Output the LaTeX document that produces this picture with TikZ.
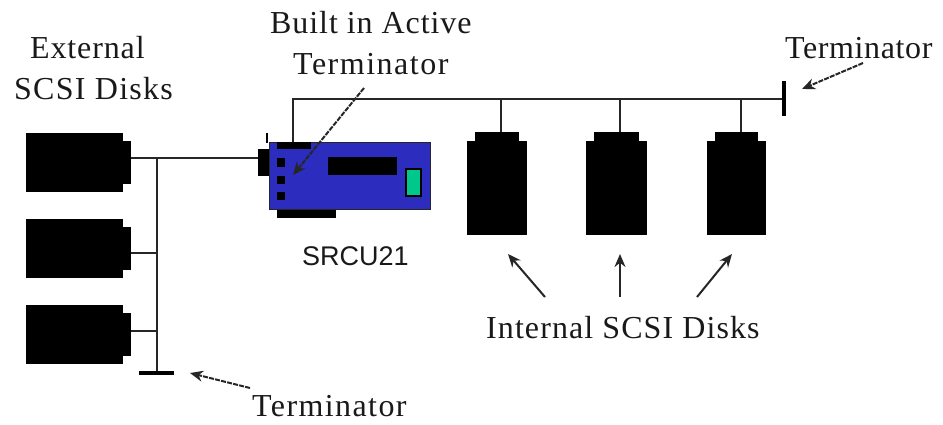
\documentclass[tikz,border=0pt]{standalone}
\usepackage{fontspec}
\setmainfont{Liberation Serif}
\newfontfamily\sansf{Liberation Sans}
\usetikzlibrary{arrows.meta}
\definecolor{cardblue}{RGB}{44,44,190}
\definecolor{ledgreen}{RGB}{0,200,140}
\newcommand{\spc}[2]{{\addfontfeature{LetterSpace=#1}#2}}
\tikzset{
  x=1pt,y=-1pt,
  wire/.style={line width=2pt,draw=black!85},
  term/.style={line width=4.5pt,draw=black},
  blk/.style={fill=black,draw=none},
  lab/.style={font=\fontsize{32}{41}\selectfont,anchor=base west,inner sep=0pt,text=black!90},
  callout/.style={line width=2pt,draw=black!85,-{Stealth[length=13pt,width=11pt]}},
  dashcall/.style={callout,dash pattern=on 5pt off 1.2pt},
}
\newcommand{\extdisk}[2]{%
  \fill[blk] (26,#1) rectangle (123,#1+59);
  \fill[blk] (123,#1+8) rectangle (131,#1+51);
  \coordinate (#2) at (131,#1+30);
}
\newcommand{\intdisk}[3]{%
  \fill[blk] (#1,141) rectangle (#1+#3,235);
  \fill[blk] (#1+8,132) rectangle (#1+#3-8,141);
}
\begin{document}
\begin{tikzpicture}
\useasboundingbox (0,0) rectangle (943,424);
% external disks
\extdisk{133}{e1}
\extdisk{219}{e2}
\extdisk{305}{e3}
% internal disks
\intdisk{467}{i1}{60}
\intdisk{586}{i2}{61}
\intdisk{707}{i3}{59}
% named points
\coordinate (busL) at (293,99);
\coordinate (busR) at (784,99);
\coordinate (cardTop) at (293,142);
\coordinate (cardLeft) at (258,158);
\coordinate (extA) at (131,158);
\coordinate (j1) at (156.5,158);
\coordinate (j2) at (156.5,253);
\coordinate (j3) at (156.5,331);
\coordinate (j4) at (156.5,373);
\coordinate (d2) at (131,253);
\coordinate (d3) at (131,331);
% wires
\draw[wire] (extA) -- (cardLeft);
\draw[wire] (j1) -- (j4);
\draw[wire] (d2) -- (j2);
\draw[wire] (d3) -- (j3);
\draw[wire] (cardTop) -- (busL) -- (busR);
\draw[wire] (501,99) -- (501,132);
\draw[wire] (620,99) -- (620,132);
\draw[wire] (741,99) -- (741,132);
% terminators
\draw[term] (139,373) -- (174,373);
\draw[term] (784,81) -- (784,116);
% card
\fill[blk] (258,149) rectangle (269,176);
\draw[line width=2pt] (267,133) -- (267,143);
\fill[blk] (277,209) rectangle (336,218);
\draw[fill=cardblue,draw=black!85,line width=1pt] (269,142) rectangle (430,209);
\fill[blk] (277,142) rectangle (311,149);
\fill[blk] (277,158) rectangle (285,167);
\fill[blk] (277,176) rectangle (285,184);
\fill[blk] (277,192) rectangle (285,200);
\fill[blk] (328,157) rectangle (397,175);
\draw[fill=ledgreen,draw=black,line width=1.2pt] (406,169) rectangle (421,196);
% labels
\node[lab,align=left] (tExt) at (14,99) {\hspace*{16pt}\spc{2.7}{External}\\\spc{4}{SCSI Disks}};
\node[lab,align=left] (tBuilt) at (270,74) {\spc{2.9}{Built in Active}\\\hspace*{23pt}\spc{4.7}{Terminator}};
\node[lab] (tTermR) at (785,58) {\spc{1.9}{Terminator}};
\node[lab] (tTermB) at (252,416.5) {\spc{4.4}{Terminator}};
\node[lab] (tInt) at (486,338) {\spc{3.4}{Internal SCSI Disks}};
\node[lab,font=\sansf\fontsize{27}{32}\selectfont] (tCard) at (302,265) {SRCU21};
% callouts
\draw[dashcall] (364,88) -- (293,175);
\draw[dashcall] (863,63) -- (802,89);
\draw[dashcall] (250,388) -- (190,373);
\draw[callout] (545,297) -- (508,254);
\draw[callout] (620,297) -- (620,254);
\draw[callout] (697,297) -- (732,254);
\end{tikzpicture}
\end{document}
